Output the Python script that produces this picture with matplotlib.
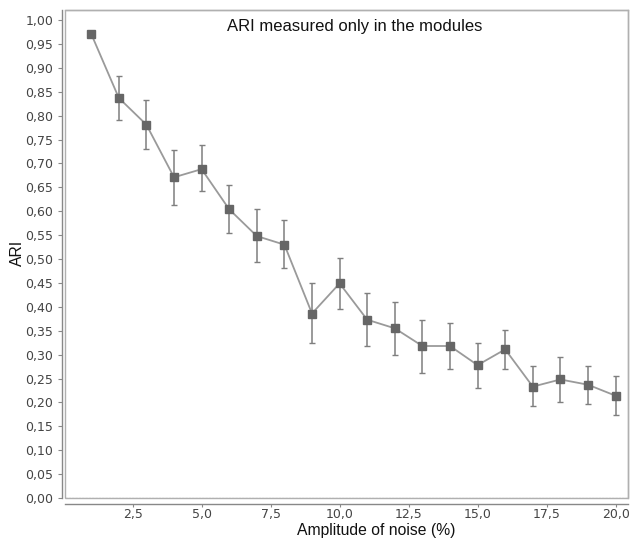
import matplotlib
matplotlib.use("Agg")
import matplotlib.pyplot as plt
import matplotlib.ticker as mticker
from matplotlib.patches import Rectangle

# data
noise = [1, 2, 3, 4, 5, 6, 7, 8, 9, 10, 11, 12, 13, 14, 15, 16, 17, 18, 19, 20]
ari = [0.971, 0.837, 0.781, 0.671, 0.688, 0.604, 0.548, 0.530, 0.386, 0.449,
       0.373, 0.355, 0.318, 0.318, 0.278, 0.311, 0.233, 0.248, 0.237, 0.214]
ari_low = [0.971, 0.791, 0.730, 0.613, 0.642, 0.554, 0.493, 0.482, 0.325, 0.396,
           0.319, 0.300, 0.262, 0.269, 0.231, 0.269, 0.192, 0.200, 0.196, 0.173]
ari_high = [0.971, 0.883, 0.832, 0.728, 0.738, 0.654, 0.605, 0.581, 0.449, 0.503,
            0.429, 0.411, 0.372, 0.366, 0.325, 0.352, 0.276, 0.296, 0.276, 0.255]

LINE = "#9a9a9a"
MARK = "#666666"
ERR = "#7f7f7f"
AXIS = "#888888"
TICKTXT = "#444444"
W, H = 630, 540

fig = plt.figure(figsize=(6.3, 5.4), dpi=100)
fig.set_facecolor("white")
ax = fig.add_axes([65 / W, 1 - 498 / H, (628 - 65) / W, (498 - 10) / H])

yerr = [[a - l for a, l in zip(ari, ari_low)], [h - a for a, h in zip(ari, ari_high)]]
ax.errorbar(noise, ari, yerr=yerr, fmt="none", ecolor=ERR, elinewidth=1.1,
            capsize=2.5, capthick=1.0, zorder=2)
ax.plot(noise, ari, color=LINE, lw=1.3, zorder=3)
ax.plot(noise, ari, ls="none", marker="s", ms=5.6, color=MARK, zorder=4)

ax.axhline(0, color="#555555", lw=0.8, ls=(0, (2, 1)), zorder=1)

ax.set_xlim(0.05, 20.45)
ax.set_ylim(0, 1.021)
ax.set_xticks([2.5, 5.0, 7.5, 10.0, 12.5, 15.0, 17.5, 20.0])
ax.set_yticks([i * 0.05 for i in range(21)])
ax.xaxis.set_major_formatter(mticker.FuncFormatter(lambda v, _: f"{v:.1f}".replace(".", ",")))
ax.yaxis.set_major_formatter(mticker.FuncFormatter(lambda v, _: f"{v:.2f}".replace(".", ",")))

for s in ["top", "right"]:
    ax.spines[s].set_color("#b0b0b0")
    ax.spines[s].set_linewidth(1.0)
ax.spines["left"].set_position(("outward", 2))
ax.spines["bottom"].set_position(("outward", 4))
for s in ["left", "bottom"]:
    ax.spines[s].set_color(AXIS)
    ax.spines[s].set_linewidth(1.0)
ax.add_patch(Rectangle((0, 0), 1, 1, transform=ax.transAxes, fill=False,
                       edgecolor="#b0b0b0", lw=1.0, clip_on=False, zorder=0))

ax.tick_params(axis="both", direction="out", length=3, width=0.8, color=AXIS,
               labelcolor=TICKTXT, labelsize=9)
ax.tick_params(axis="x", length=2, pad=1.5)

fig.text(355 / W, 1 - 26 / H, "ARI measured only in the modules",
         ha="center", va="center", fontsize=12, family="Liberation Sans", color="#111111")
fig.text(376 / W, 1 - 530 / H, "Amplitude of noise (%)",
         ha="center", va="center", fontsize=11.3, family="Liberation Sans", color="#111111")
fig.text(17 / W, 1 - 253 / H, "ARI", rotation=90,
         ha="center", va="center", fontsize=11.3, family="Liberation Sans", color="#111111")

fig.savefig("out.png", dpi=100)
